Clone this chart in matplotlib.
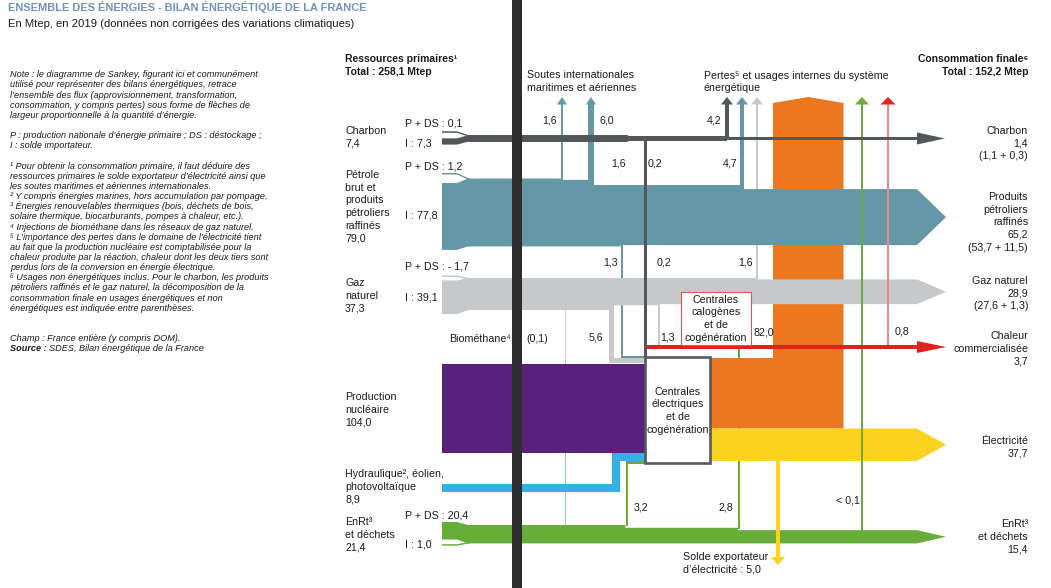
import matplotlib
matplotlib.use('Agg')
import matplotlib.pyplot as plt
from matplotlib.patches import Rectangle, Polygon

plt.rcParams['font.family'] = ['Liberation Sans', 'DejaVu Sans']

# Données : bilan énergétique de la France 2019 (Mtep)
prim_names = ['Charbon', 'Pétrole\nbrut et\nproduits\npétroliers\nraffinés', 'Gaz\nnaturel',
              'Production\nnucléaire', 'Hydraulique², éolien,\nphotovoltaïque', 'EnRt³\net déchets']
prim_values = [7.4, 79.0, 37.3, 104.0, 8.9, 21.4]
pds_values = [0.1, 1.2, -1.7, 20.4]      # charbon, pétrole, gaz, EnRt
imp_values = [7.3, 77.8, 39.1, 1.0]
soutes = [1.6, 6.0]
# pertes et usages internes : charbon, pétrole, gaz, électricité, EnRt, chaleur
pertes = [4.2, 4.7, 1.6, 82.0, 0.1, 0.8]
# entrées des centrales électriques : charbon, pétrole, gaz, nucléaire, hydro, EnRt
to_elec = [1.6, 1.3, 5.6, 104.0, 8.9, 3.2]
# entrées des centrales calogènes : charbon, pétrole, gaz, EnRt
to_heat = [0.2, 0.2, 1.3, 2.8]
biomethane = 0.1
export_elec = 5.0
final_names = ['Charbon', 'Produits\npétroliers\nraffinés', 'Gaz naturel',
               'Chaleur\ncommercialisée', 'Électricité', 'EnRt³\net déchets']
final_values = [1.4, 65.2, 28.9, 3.7, 37.7, 15.4]
final_split = ['(1,1 + 0,3)', '(53,7 + 11,5)', '(27,6 + 1,3)', '', '', '']
total_prim = 258.1
total_final = 152.2

notes = [
    "Note : le diagramme de Sankey, figurant ici et communément",
    "utilisé pour représenter des bilans énergétiques, retrace",
    "l’ensemble des flux (approvisionnement, transformation,",
    "consommation, y compris pertes) sous forme de flèches de",
    "largeur proportionnelle à la quantité d’énergie.",
    "",
    "P : production nationale d’énergie primaire ; DS : déstockage ;",
    "I : solde importateur.",
    "",
    "¹ Pour obtenir la consommation primaire, il faut déduire des",
    "ressources primaires le solde exportateur d’électricité ainsi que",
    "les soutes maritimes et aériennes internationales.",
    "² Y compris énergies marines, hors accumulation par pompage.",
    "³ Énergies renouvelables thermiques (bois, déchets de bois,",
    "solaire thermique, biocarburants, pompes à chaleur, etc.).",
    "⁴ Injections de biométhane dans les réseaux de gaz naturel.",
    "⁵ L’importance des pertes dans le domaine de l’électricité tient",
    "au fait que la production nucléaire est comptabilisée pour la",
    "chaleur produite par la réaction, chaleur dont les deux tiers sont",
    "perdus lors de la conversion en énergie électrique.",
    "⁶ Usages non énergétiques inclus. Pour le charbon, les produits",
    "pétroliers raffinés et le gaz naturel, la décomposition de la",
    "consommation finale en usages énergétiques et non",
    "énergétiques est indiquée entre parenthèses.",
    "",
    "",
    "Champ : France entière (y compris DOM).",
]

# couleurs
C_CHARBON = '#52575a'
C_PETROLE = '#6598a6'
C_GAZ = '#c7c8ca'
C_NUC = '#58217e'
C_HYDRO = '#35b1e5'
C_ENRT = '#66ad3a'
C_PERTES = '#ec7721'
C_ELEC = '#fbd31f'
C_CHALEUR = '#e2201c'
TXT = '#1a1a1a'

K = 0.86        # px par Mtep
X0, XA, XM = 442, 457, 468
XH, XT = 917, 946
TOP_Y, HEAD_Y = 104, 97


def fmt(v):
    s = f"{abs(v):.1f}".replace('.', ',')
    return ('- ' + s) if v < 0 else s


def W(v, mini=1.5):
    return max(abs(v) * K, mini)


fig = plt.figure(figsize=(10.51, 5.88), dpi=100)
ax = fig.add_axes([0, 0, 1, 1])
ax.set_xlim(0, 1051)
ax.set_ylim(588, 0)
ax.axis('off')


def poly(pts, color, z):
    ax.add_patch(Polygon(pts, closed=True, fc=color, ec='none', lw=0, zorder=z))


def rect(x0, y0, x1, y1, color, z):
    ax.add_patch(Rectangle((x0, y0), x1 - x0, y1 - y0, fc=color, ec='none', lw=0, zorder=z))


def flow(tops, bots, x_end, color, z, head=True):
    # tops / bots : listes de (x, y) -> à partir de x, le bord vaut y
    up, dn = [], []
    for i, (x, y) in enumerate(tops):
        nx = tops[i + 1][0] if i + 1 < len(tops) else x_end
        up += [(x, y), (nx, y)]
    for i, (x, y) in enumerate(bots):
        nx = bots[i + 1][0] if i + 1 < len(bots) else x_end
        dn += [(x, y), (nx, y)]
    if head:
        up.append((XT, (tops[-1][1] + bots[-1][1]) / 2))
    poly(up + dn[::-1], color, z)


def up_arrow(xc, w, y_from, color, z, hw=6, shaft=None):
    rect(xc - w / 2, TOP_Y, xc + w / 2, y_from, shaft or color, z)
    poly([(xc - hw, TOP_Y + 0.5), (xc + hw, TOP_Y + 0.5), (xc, HEAD_Y)], color, z)


def entry_top(top, bot, v_small, v_big, d1, d2, color):
    t = W(v_small)
    ys = top - d1
    poly([(X0, ys), (XA, ys), (XM + 1, top), (XM + 1, top + t), (XA, ys + t), (X0, ys + t)], color, 2)
    wb = W(v_big)
    poly([(X0, top + d2), (XA, top + d2), (XM, top), (XM + 2, top), (XM + 2, bot),
          (XM, bot), (XA, top + d2 + wb), (X0, top + d2 + wb)], color, 2)


def entry_bottom(top, bot, v_big, v_small, d1, d2, color):
    wb = W(v_big)
    poly([(X0, top - d1), (XA, top - d1), (XM, top), (XM + 2, top), (XM + 2, bot),
          (XM, bot), (XA, top - d1 + wb), (X0, top - d1 + wb)], color, 2)
    t = W(v_small)
    ys = bot + d2
    poly([(X0, ys), (XA, ys), (XM + 1, bot - t), (XM + 1, bot), (XA, ys + t), (X0, ys + t)], color, 2)


# ---------------- Charbon ----------------
c_mid = 138.5
w_c0 = prim_values[0] * K
w_c1 = (prim_values[0] - to_elec[0] - to_heat[0]) * K
w_c2 = W(final_values[0], 3)
flow([(XM, c_mid - w_c0 / 2), (628, c_mid - w_c1 / 2), (727, c_mid - w_c2 / 2)],
     [(XM, c_mid + w_c0 / 2), (628, c_mid + w_c1 / 2), (727, c_mid + w_c2 / 2)],
     XH, C_CHARBON, 4, head=False)
poly([(XH, c_mid - 6), (XT - 1, c_mid), (XH, c_mid + 6)], C_CHARBON, 4)
entry_top(c_mid - w_c0 / 2, c_mid + w_c0 / 2, pds_values[0], imp_values[0], 4, 3, C_CHARBON)
w_cd = W(to_elec[0] + to_heat[0], 3)
rect(645 - w_cd / 2, c_mid, 645 + w_cd / 2, 357, C_CHARBON, 4)
up_arrow(727, W(pertes[0]), c_mid, C_CHARBON, 4)

# ---------------- Pétrole ----------------
p_top = 178.5
p_bot = p_top + prim_values[1] * K
ws1, ws2 = W(soutes[0]), W(soutes[1])
wpp = W(pertes[1])
xs1, xs2, xpp = 561.3, 588.4, 740
t1 = p_top + soutes[0] * K
t2 = t1 + soutes[1] * K
t3 = t2 + pertes[1] * K
b1 = p_bot - (to_elec[1] + to_heat[1]) * K
flow([(XM, p_top), (xs1, t1), (xs2, t2), (xpp, t3)],
     [(XM, p_bot), (620.5, b1)], XH, C_PETROLE, 2)
entry_top(p_top, p_bot, pds_values[1], imp_values[1], 5.5, 4.5, C_PETROLE)
up_arrow(xs1 + ws1 / 2, ws1, t1 + 1, C_PETROLE, 2, hw=5)
up_arrow(xs2 + ws2 / 2, ws2, t2 + 1, C_PETROLE, 2, hw=5)
up_arrow(xpp + wpp / 2, wpp, t3 + 1, C_PETROLE, 2)
# vers centrales électriques (passe derrière le gaz)
wpe = W(to_elec[1], 2)
poly([(620.5, b1 - 1), (620.5 + wpe, b1 - 1), (620.5 + wpe, 357.5 - wpe), (645, 357.5 - wpe),
      (645, 357.5), (620.5, 357.5)], C_PETROLE, 1)

# ---------------- Gaz naturel ----------------
g_top = 278
g_bot = g_top + prim_values[2] * K
wge = W(to_elec[2])
wgh = W(to_heat[2], 2)
g_t1 = g_top + pertes[2] * K
g_b1 = g_bot - to_elec[2] * K
g_b2 = g_b1 - to_heat[2] * K
flow([(XM, g_top), (756.3, g_t1)], [(XM, g_bot), (609, g_b1), (657.5, g_b2)], XH, C_GAZ, 2)
entry_top(g_top, g_bot, pds_values[2], imp_values[2], 2.5, 2.5, C_GAZ)
up_arrow(757, W(pertes[2]), g_top + 1, C_GAZ, 1)
poly([(609, g_b1 - 1), (609 + wge, g_b1 - 1), (609 + wge, 358), (645, 358),
      (645, 358 + wge), (609, 358 + wge)], C_GAZ, 3)
rect(657.5, g_b2 - 1, 657.5 + wgh, 345.4, C_GAZ, 3)

# biométhane injecté dans le réseau de gaz
ax.plot([565, 565], [g_bot, 364], color='#bfd0d6', lw=0.8, zorder=1)
ax.plot([565, 565], [453, 525], color='#93d2ad', lw=0.8, zorder=1)

# ---------------- Nucléaire ----------------
n_top = 364
n_bot = n_top + prim_values[3] * K
rect(X0, n_top, 645, n_bot, C_NUC, 2)

# ---------------- Hydraulique ----------------
wh = prim_values[4] * K
h_top = 484
poly([(X0, h_top), (612.3, h_top), (612.3, n_bot), (645, n_bot), (645, n_bot + wh),
      (612.3 + wh, n_bot + wh), (612.3 + wh, h_top + wh), (X0, h_top + wh)], C_HYDRO, 2)

# ---------------- EnRt et déchets ----------------
e_top = 525
e_bot = e_top + prim_values[5] * K
we1 = W(to_elec[5])
we2 = W(to_heat[3])
e_t1 = e_top + to_elec[5] * K
e_t2 = e_t1 + to_heat[3] * K
flow([(XM, e_top), (625.5, e_t1), (738, e_t2)], [(XM, e_bot)], XH, C_ENRT, 2)
entry_bottom(e_top, e_bot, pds_values[3], imp_values[3], 3, 0.8, C_ENRT)
poly([(625.5, e_top + 1), (625.5, n_bot + wh), (645, n_bot + wh), (645, n_bot + wh + we1),
      (625.5 + we1, n_bot + wh + we1), (625.5 + we1, e_top + 1)], C_ENRT, 2)
rect(738, 348.6, 738 + we2, e_t1 + 1, C_ENRT, 1)
up_arrow(862, W(pertes[4]), e_t2 + 1, C_ENRT, 3, hw=7)

# ---------------- Chaleur ----------------
wr = final_values[3] * K
r_mid = 347
rect(645, r_mid - wr / 2, XH, r_mid + wr / 2, C_CHALEUR, 3)
poly([(XH, r_mid - 6), (XT, r_mid), (XH, r_mid + 6)], C_CHALEUR, 3)
up_arrow(888, W(pertes[5]), r_mid - wr / 2, C_CHALEUR, 3, hw=7.5, shaft='#f08a8a')

# ---------------- Pertes électricité / électricité ----------------
wo = pertes[3] * K
poly([(710, 358), (773, 358), (773, 103), (773 + wo / 2, 97), (773 + wo, 103),
      (773 + wo, 358 + wo), (710, 358 + wo)], C_PERTES, 1)
y_top = 358 + wo
y_bot = y_top + final_values[4] * K
flow([(710, y_top)], [(710, y_bot)], XH, C_ELEC, 2)
wx = export_elec * K
rect(778 - wx / 2, y_bot - 1, 778 + wx / 2, 557, C_ELEC, 5)
poly([(771, 557), (785, 557), (778, 565)], C_ELEC, 5)

# boîtes des centrales
ax.add_patch(Rectangle((645, 357), 65, 106, fc='white', ec='#58595b', lw=1.9, zorder=5))
ax.add_patch(Rectangle((681, 292), 70, 53, fc='white', ec='#e8534f', lw=0.8, zorder=5))

# barre verticale sombre
rect(512, 0, 522, 588, '#2d2d2d', 10)

# ---------------- Textes ----------------
FS = 7.7


def txt(x, y, s, ha='left', fs=FS, **kw):
    # y : centre des majuscules, en pixels
    kw.setdefault('color', TXT)
    return ax.text(x, y + 0.358 * fs * 100 / 72, s, ha=ha, va='baseline', fontsize=fs,
                   zorder=6, **kw)


def lines(x, y0, dy, items, ha='left', fs=FS, **kw):
    for i, s in enumerate(items):
        if s:
            txt(x, y0 + i * dy, s, ha=ha, fs=fs, **kw)


txt(8, 7, "ENSEMBLE DES ÉNERGIES - BILAN ÉNERGÉTIQUE DE LA FRANCE", fs=7.9,
    fontweight='bold', color='#6f93bb')
txt(8, 23, "En Mtep, en 2019 (données non corrigées des variations climatiques)", fs=8.1)

NFS = 6.55
lines(10, 74, 10.15, notes, fs=NFS, style='italic')
t_src = txt(10, 74 + 27 * 10.15, "Source :", fs=NFS, style='italic', fontweight='bold')
fig.canvas.draw()
bb = t_src.get_window_extent()
x_src = ax.transData.inverted().transform((bb.x1, bb.y0))[0]
txt(x_src + 2, 74 + 27 * 10.15, "SDES, Bilan énergétique de la France", fs=NFS, style='italic')

# en-têtes
txt(345, 58, "Ressources primaires¹", fontweight='bold', fs=7.5)
txt(345, 71, f"Total : {fmt(total_prim)} Mtep", fontweight='bold', fs=7.5)
txt(1028, 58, "Consommation finale⁶", ha='right', fontweight='bold', fs=7.5)
txt(1028, 71, f"Total : {fmt(total_final)} Mtep", ha='right', fontweight='bold', fs=7.5)

# étiquettes de gauche
left_y = [130, 174, 282, 396, 473, 521]
for name, v, y in zip(prim_names, prim_values, left_y):
    lines(345, y, 12.7, name.split('\n') + [fmt(v)])

pds_y = [123, 166, 266, 515]
imp_y = [143, 215, 297, 544]
for v, y in zip(pds_values, pds_y):
    txt(405, y, f"P + DS : {fmt(v)}")
for v, y in zip(imp_values, imp_y):
    txt(405, y, f"I : {fmt(v)}")

# étiquettes de droite
right_y = [130, 196, 280, 335, 440, 523]
for name, v, sp, y in zip(final_names, final_values, final_split, right_y):
    items = name.split('\n') + [fmt(v)] + ([sp] if sp else [])
    lines(1028, y, 12.7, items, ha='right')

# flux intermédiaires
lines(527, 74, 13, ["Soutes internationales", "maritimes et aériennes"])
txt(557, 120, fmt(soutes[0]), ha='right')
txt(600, 120, fmt(soutes[1]))
lines(704, 75, 12.5, ["Pertes⁵ et usages internes du système", "énergétique"])
txt(721, 120, fmt(pertes[0]), ha='right')
txt(626, 163, fmt(to_elec[0]), ha='right')
txt(648, 163, fmt(to_heat[0]))
txt(737, 163, fmt(pertes[1]), ha='right')
txt(618, 262, fmt(to_elec[1]), ha='right')
txt(657, 262, fmt(to_heat[1]))
txt(753, 262, fmt(pertes[2]), ha='right')
txt(449, 338, "Biométhane⁴")
txt(526, 338, f"({fmt(biomethane)})")
txt(603, 337, fmt(to_elec[2]), ha='right')
txt(660, 337, fmt(to_heat[2]))
txt(753, 332, fmt(pertes[3]))
txt(895, 331, fmt(pertes[5]))
lines(716, 299, 12.6, ["Centrales", "calogènes", "et de", "cogénération"], ha='center')
lines(677.5, 391, 12.6, ["Centrales", "électriques", "et de", "cogénération"], ha='center')
txt(634, 507, fmt(to_elec[5]))
txt(733, 507, fmt(to_heat[3]), ha='right')
txt(860, 500, "< " + fmt(pertes[4]), ha='right')
lines(683, 556, 13, ["Solde exportateur", f"d’électricité : {fmt(export_elec)}"])

fig.savefig('out.png', dpi=100)
